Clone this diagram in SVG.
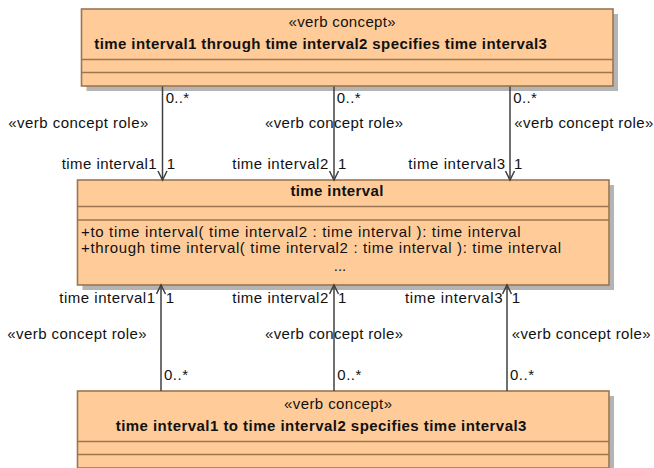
<svg xmlns="http://www.w3.org/2000/svg" width="654" height="468" viewBox="0 0 654 468">
<defs>
<style>
.shadow{fill:#b4b4b4}
.box{fill:#ffcc99;stroke:#9c7650;stroke-width:1.6}
.sep{stroke:#9c7650;stroke-width:1.6}
text{font-family:"Liberation Sans",Arial,sans-serif;font-size:15px;fill:#111}
.b{font-weight:bold}
.conn{stroke:#404040;stroke-width:1.5;fill:none;marker-end:url(#open)}
</style>
<marker id="open" markerUnits="userSpaceOnUse" markerWidth="12" markerHeight="12" viewBox="-1 -1 12 12" refX="9" refY="4.5" orient="auto">
<path d="M0,0 L9,4.5 L0,9" fill="none" stroke="#404040" stroke-width="1.5"/>
</marker>
</defs>
<rect width="654" height="468" fill="#fff"/>

<g id="vc-through">
<rect class="shadow" x="86.5" y="14" width="531.5" height="77"/>
<rect class="box" x="81.5" y="9" width="531.5" height="77"/>
<line class="sep" x1="81.5" y1="59.5" x2="613" y2="59.5"/>
<line class="sep" x1="81.5" y1="72.5" x2="613" y2="72.5"/>
<text x="288.6" y="27" textLength="107">«verb concept»</text>
<text class="b" x="94.3" y="49" textLength="452.5">time interval1 through time interval2 specifies time interval3</text>
</g>

<g id="time-interval">
<rect class="shadow" x="82.5" y="185" width="531.5" height="105"/>
<rect class="box" x="77.5" y="180" width="531.5" height="105"/>
<line class="sep" x1="77.5" y1="206.5" x2="609" y2="206.5"/>
<line class="sep" x1="77.5" y1="220" x2="609" y2="220"/>
<text class="b" x="290.4" y="196" textLength="93">time interval</text>
<text x="81" y="236.5" textLength="439.7">+to time interval( time interval2 : time interval ): time interval</text>
<text x="81" y="253" textLength="480">+through time interval( time interval2 : time interval ): time interval</text>
<text x="340" y="271" font-size="11" text-anchor="middle">...</text>
</g>

<g id="vc-to">
<rect class="shadow" x="82.5" y="396" width="531.5" height="77"/>
<rect class="box" x="77.5" y="391" width="531.5" height="77"/>
<line class="sep" x1="77.5" y1="441.5" x2="609" y2="441.5"/>
<line class="sep" x1="77.5" y1="454.5" x2="609" y2="454.5"/>
<text x="284" y="409" textLength="108">«verb concept»</text>
<text class="b" x="115.7" y="431" textLength="410.7">time interval1 to time interval2 specifies time interval3</text>
</g>

<g id="connectors">
<line class="conn" x1="162.5" y1="86.5" x2="162.5" y2="180"/>
<line class="conn" x1="334" y1="86.5" x2="334" y2="180"/>
<line class="conn" x1="510" y1="86.5" x2="510" y2="180"/>
<line class="conn" x1="161" y1="391" x2="161" y2="285"/>
<line class="conn" x1="334" y1="391" x2="334" y2="285"/>
<line class="conn" x1="507" y1="391" x2="507" y2="285"/>

<text x="165.7" y="103" textLength="23.5">0..*</text>
<text x="8.3" y="128" textLength="140">«verb concept role»</text>
<text x="61.7" y="168.5" textLength="95">time interval1</text>
<text x="166.7" y="168.5">1</text>

<text x="336.7" y="103" textLength="24">0..*</text>
<text x="265" y="128" textLength="138">«verb concept role»</text>
<text x="232.3" y="168.5" textLength="96">time interval2</text>
<text x="338" y="168.5">1</text>

<text x="513.3" y="103" textLength="23.5">0..*</text>
<text x="514.3" y="128" textLength="139">«verb concept role»</text>
<text x="408.3" y="168.5" textLength="96.7">time interval3</text>
<text x="514" y="168.5">1</text>

<text x="59.3" y="303" textLength="95.7">time interval1</text>
<text x="165.7" y="303">1</text>
<text x="7.3" y="339" textLength="139.4">«verb concept role»</text>
<text x="164" y="380" textLength="24">0..*</text>

<text x="232.3" y="303" textLength="96">time interval2</text>
<text x="338" y="303">1</text>
<text x="265" y="339" textLength="138">«verb concept role»</text>
<text x="337.3" y="380" textLength="24">0..*</text>

<text x="405" y="303" textLength="97.5">time interval3</text>
<text x="511.7" y="303">1</text>
<text x="511.7" y="339" textLength="139">«verb concept role»</text>
<text x="510" y="380" textLength="24">0..*</text>
</g>
</svg>
